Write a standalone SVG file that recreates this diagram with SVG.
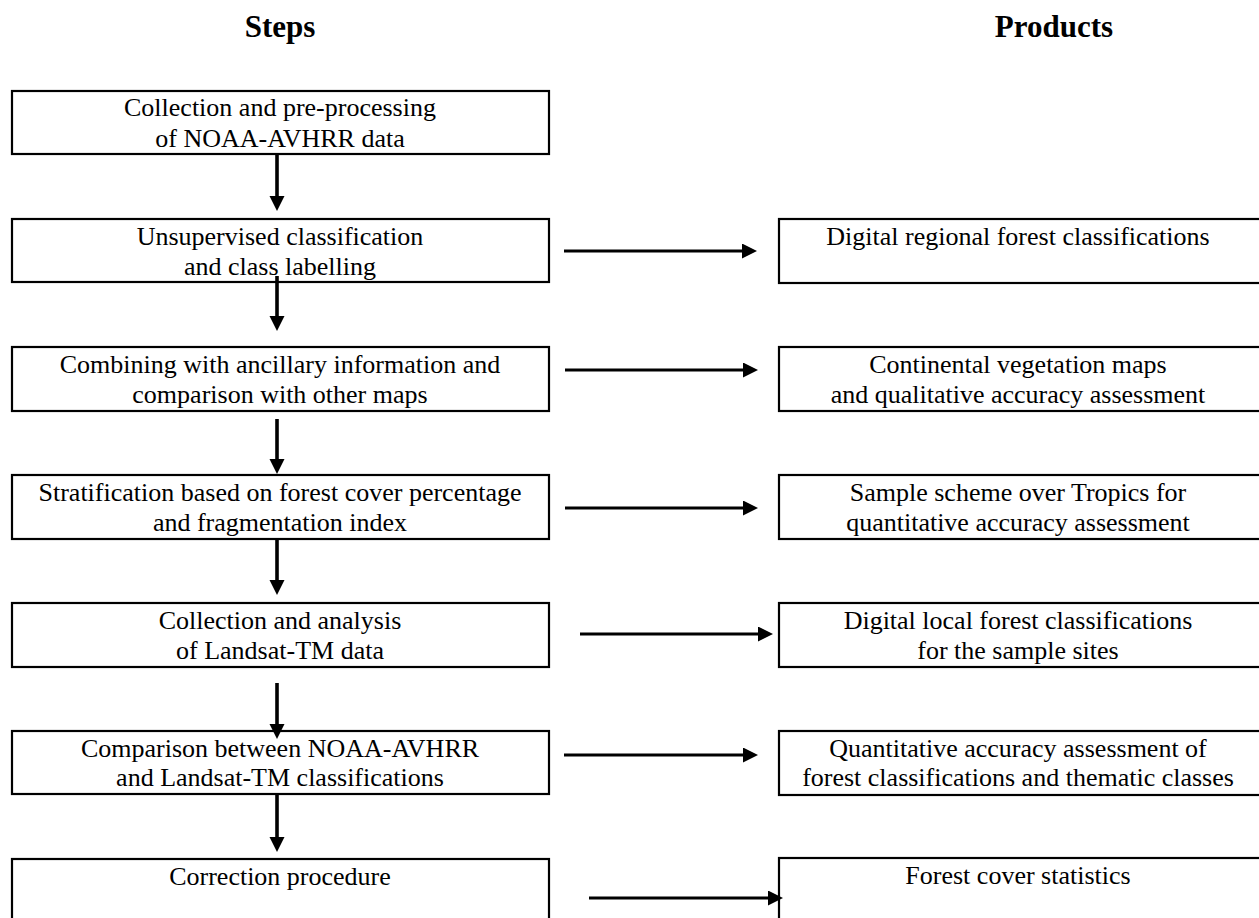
<svg xmlns="http://www.w3.org/2000/svg" width="1259" height="918" viewBox="0 0 1259 918">
<style>
.box{fill:#fff;stroke:#000;stroke-width:2.2}
.t{font-family:"Liberation Serif","Times New Roman",serif;font-size:26px;fill:#000;text-anchor:middle}
.h{font-family:"Liberation Serif","Times New Roman",serif;font-size:31px;font-weight:bold;fill:#000;text-anchor:middle}
.v{stroke:#000;stroke-width:3.6;fill:none}
.r{stroke:#000;stroke-width:3;fill:none}
</style>
<defs>
<marker id="ah" markerUnits="userSpaceOnUse" markerWidth="16" markerHeight="16" refX="2" refY="7.5" orient="auto">
<path d="M0,0 L15,7.5 L0,15 z" fill="#000"/>
</marker>
</defs>
<rect width="1259" height="918" fill="#fff"/>
<g id="headings">
<text class="h" x="280" y="37">Steps</text>
<text class="h" x="1054" y="37">Products</text>
</g>
<g id="s1"><rect class="box" x="12" y="91" width="537" height="63"/><text class="t" x="280" y="116">Collection and pre-processing</text><text class="t" x="280" y="147">of NOAA-AVHRR data</text></g>
<g id="s2"><rect class="box" x="12" y="219" width="537" height="63"/><text class="t" x="280" y="245">Unsupervised classification</text><text class="t" x="280" y="275">and class labelling</text></g>
<g id="s3"><rect class="box" x="12" y="347" width="537" height="64"/><text class="t" x="280" y="373">Combining with ancillary information and</text><text class="t" x="280" y="403">comparison with other maps</text></g>
<g id="s4"><rect class="box" x="12" y="475" width="537" height="64"/><text class="t" x="280" y="501">Stratification based on forest cover percentage</text><text class="t" x="280" y="531">and fragmentation index</text></g>
<g id="s5"><rect class="box" x="12" y="603" width="537" height="64"/><text class="t" x="280" y="629">Collection and analysis</text><text class="t" x="280" y="659">of Landsat-TM data</text></g>
<g id="s6"><rect class="box" x="12" y="731" width="537" height="63"/><text class="t" x="280" y="757">Comparison between NOAA-AVHRR</text><text class="t" x="280" y="786">and Landsat-TM classifications</text></g>
<g id="s7"><rect class="box" x="12" y="859" width="537" height="70"/><text class="t" x="280" y="885">Correction procedure</text></g>
<g id="p1"><rect class="box" x="779" y="219" width="490" height="64"/><text class="t" x="1018" y="245">Digital regional forest classifications</text></g>
<g id="p2"><rect class="box" x="779" y="347" width="490" height="64"/><text class="t" x="1018" y="373">Continental vegetation maps</text><text class="t" x="1018" y="403">and qualitative accuracy assessment</text></g>
<g id="p3"><rect class="box" x="779" y="475" width="490" height="64"/><text class="t" x="1018" y="501">Sample scheme over Tropics for</text><text class="t" x="1018" y="531">quantitative accuracy assessment</text></g>
<g id="p4"><rect class="box" x="779" y="603" width="490" height="64"/><text class="t" x="1018" y="629">Digital local forest classifications</text><text class="t" x="1018" y="659">for the sample sites</text></g>
<g id="p5"><rect class="box" x="779" y="731" width="490" height="64"/><text class="t" x="1018" y="757">Quantitative accuracy assessment of</text><text class="t" x="1018" y="786">forest classifications and thematic classes</text></g>
<g id="p6"><rect class="box" x="779" y="858" width="490" height="70"/><text class="t" x="1018" y="884">Forest cover statistics</text></g>
<g id="connectors">
<line class="v" x1="277" y1="154" x2="277" y2="198" marker-end="url(#ah)"/>
<line class="v" x1="277" y1="276" x2="277" y2="318" marker-end="url(#ah)"/>
<line class="v" x1="277" y1="419" x2="277" y2="461" marker-end="url(#ah)"/>
<line class="v" x1="277" y1="539" x2="277" y2="582" marker-end="url(#ah)"/>
<line class="v" x1="277" y1="683" x2="277" y2="726" marker-end="url(#ah)"/>
<line class="v" x1="277" y1="794" x2="277" y2="839" marker-end="url(#ah)"/>
<line class="r" x1="564" y1="251" x2="744" y2="251" marker-end="url(#ah)"/>
<line class="r" x1="565" y1="370" x2="745" y2="370" marker-end="url(#ah)"/>
<line class="r" x1="565" y1="508" x2="745" y2="508" marker-end="url(#ah)"/>
<line class="r" x1="580" y1="634" x2="760" y2="634" marker-end="url(#ah)"/>
<line class="r" x1="564" y1="755" x2="745" y2="755" marker-end="url(#ah)"/>
<line class="r" x1="589" y1="898" x2="770" y2="898" marker-end="url(#ah)"/>
</g>
</svg>
